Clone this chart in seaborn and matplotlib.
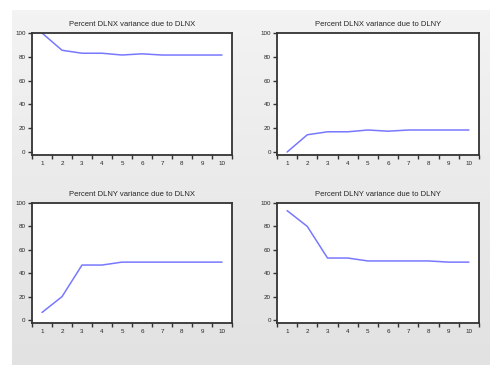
import numpy as np
import pandas as pd
import matplotlib
matplotlib.use("Agg")
import matplotlib.pyplot as plt
import seaborn as sns

sns.set_style("white")
plt.rcParams['font.family'] = ['Liberation Sans', 'DejaVu Sans']

# --------------------------------------------
# DATA (variance decomposition, periods 1..10)
# --------------------------------------------
periods = [1, 2, 3, 4, 5, 6, 7, 8, 9, 10]
dlnx_due_dlnx = [100, 85.5, 83, 83, 81.5, 82.5, 81.5, 81.5, 81.5, 81.5]
dlnx_due_dlny = [0, 14.5, 17, 17, 18.5, 17.5, 18.5, 18.5, 18.5, 18.5]
dlny_due_dlnx = [6.5, 20, 47, 47, 49.5, 49.5, 49.5, 49.5, 49.5, 49.5]
dlny_due_dlny = [93.5, 80, 53, 53, 50.5, 50.5, 50.5, 50.5, 49.5, 49.5]

titles = ["Percent DLNX variance due to DLNX",
          "Percent DLNX variance due to DLNY",
          "Percent DLNY variance due to DLNX",
          "Percent DLNY variance due to DLNY"]
series = [dlnx_due_dlnx, dlnx_due_dlny, dlny_due_dlnx, dlny_due_dlny]

# --------------------------------------------
# FIGURE + GRAY BACKGROUND PANEL
# --------------------------------------------
fig = plt.figure(figsize=(5, 3.7), dpi=100)
fig.patch.set_facecolor("white")

bg = fig.add_axes([12/500, 1 - 365/370, 478/500, 355/370])
grad = np.linspace(0, 1, 100).reshape(-1, 1)
bg.imshow(grad, aspect="auto", cmap=matplotlib.colors.LinearSegmentedColormap.from_list(
    "g", ["#f3f3f3", "#e2e2e2"]), extent=[0, 1, 0, 1])
bg.axis("off")

positions = [
    [32/500, 1 - 155/370, 200/500, 122/370],
    [277/500, 1 - 155/370, 202/500, 122/370],
    [32/500, 1 - 323/370, 200/500, 120/370],
    [277/500, 1 - 323/370, 202/500, 120/370],
]

for pos, title, vals in zip(positions, titles, series):
    ax = fig.add_axes(pos)
    df = pd.DataFrame({"Period": periods, "Value": vals})
    sns.lineplot(data=df, x="Period", y="Value", ax=ax, color="#7878ff", linewidth=1.1)
    ax.set_facecolor("white")
    ax.set_xlim(0.5, 10.5)
    ax.set_ylim(-2.5, 100)
    ax.set_xticks(periods)
    ax.set_xticks(np.arange(0.5, 11, 1), minor=True)
    ax.set_yticks([0, 20, 40, 60, 80, 100])
    ax.tick_params(axis="x", which="major", length=0, labelsize=4.5, pad=4)
    ax.tick_params(axis="x", which="minor", length=3, width=1, direction="out",
                   color="#333333", bottom=True)
    ax.tick_params(axis="y", which="major", length=3, width=1, direction="out",
                   color="#333333", left=True, labelsize=4.5, pad=1.5)
    ax.set_xlabel("")
    ax.set_ylabel("")
    ax.set_title(title, fontsize=5.5, pad=5)
    for sp in ax.spines.values():
        sp.set_color("#333333")
        sp.set_linewidth(1.3)

plt.savefig("out.png", dpi=100)
